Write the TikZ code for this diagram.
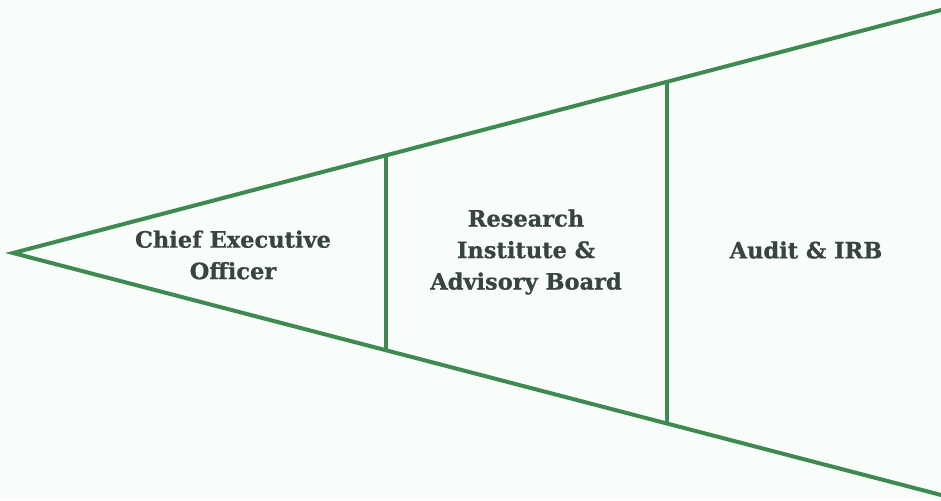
\documentclass[tikz,border=0pt]{standalone}
\usepackage{fontspec}
\setmainfont{DejaVu Serif}[BoldFeatures={FakeBold=0.8}]
\definecolor{bgc}{HTML}{F8FDF9}
\definecolor{lc}{HTML}{3E8A52}
\definecolor{tc}{HTML}{38443F}
\begin{document}
\begin{tikzpicture}[x=1pt,y=-1pt,
  edge/.style={draw=lc,line width=4pt},
  lbl/.style={text=tc,font=\bfseries\fontsize{22.5}{31.5}\selectfont,align=center,inner sep=0pt}]
\fill[bgc] (0,0) rectangle (941,500);
\useasboundingbox (0,0) rectangle (941,500);
\coordinate (apex) at (13,253);
\coordinate (tr) at (945,9);
\coordinate (br) at (945,496);
\coordinate (t1) at (386,155);
\coordinate (b1) at (386,350);
\coordinate (t2) at (667,82);
\coordinate (b2) at (667,424);
\draw[edge,line join=miter] (tr) -- (apex) -- (br);
\draw[edge] (t1) -- (b1);
\draw[edge] (t2) -- (b2);
\node[lbl] (ceo) at (233,255) {Chief Executive\\Officer};
\node[lbl] (ri) at (526,252) {Research\\Institute \&\\Advisory Board};
\node[lbl] (audit) at (806,250) {Audit \& IRB};
\end{tikzpicture}
\end{document}
